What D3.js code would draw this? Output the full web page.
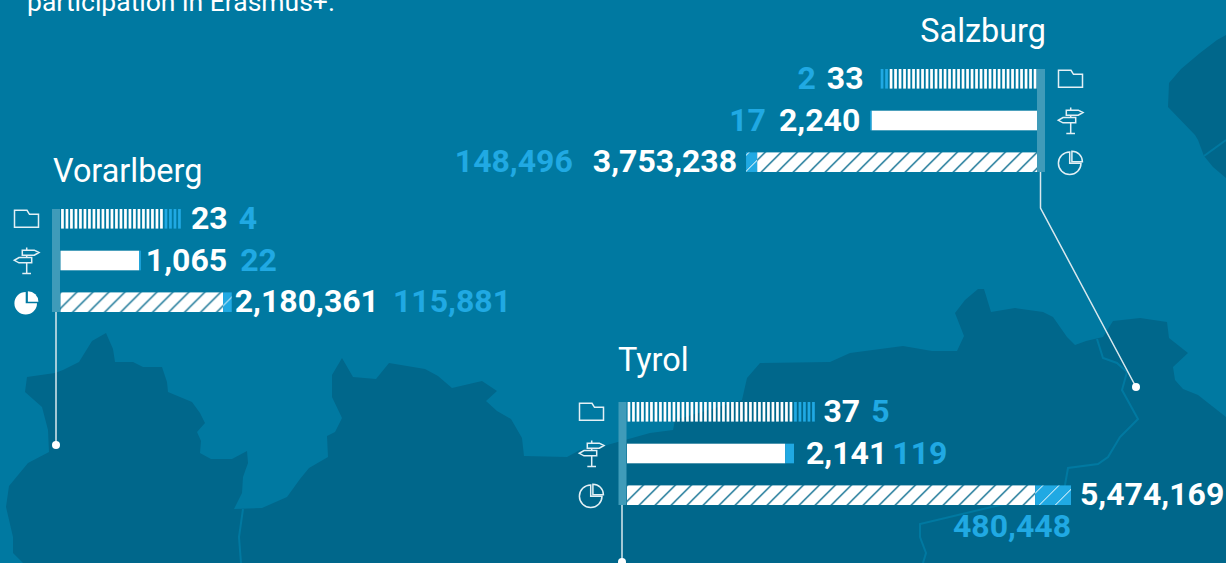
<!DOCTYPE html>
<html>
<head>
<meta charset="utf-8">
<script src="https://cdn.jsdelivr.net/npm/d3@7/dist/d3.min.js"></script>
<style>
  html, body { margin: 0; padding: 0; background: #0079a1; overflow: hidden; }
  text { font-family: Roboto, sans-serif; }
</style>
</head>
<body>
<svg id="chart" width="1226" height="563"></svg>
<script>
// values: [main, second] per region
const regions = ["Vorarlberg", "Salzburg", "Tyrol"];
const projects = [23, 33, 37];
const projectsOther = [4, 2, 5];
const organisations = [1065, 2240, 2141];
const organisationsOther = [22, 17, 119];
const funding = [2180361, 3753238, 5474169];
const fundingOther = [115881, 148496, 480448];
const introText = "participation in Erasmus+.";

const bg = "#0079a1", land = "#00678b", border = "#0079a1";
const blue = "#20a9e3", white = "#ffffff", axisCol = "#3f9bb9";

// background map outline, traced by hand
const landPath = "M23,563 L13,553 L13,537 L6,507 L9,486 L28,463 L49,452 L48,430 L42,407 L25,392 L27,377 L55,373 L63,370 L79,362 L92,341 L106,333 L113,349 L115,362 L133,362 L143,367 L162,367 L167,382 L168,392 L192,402 L200,413 L205,423 L197,432 L201,441 L200,453 L211,459 L232,459 L247,451 L248,463 L243,477 L242,493 L234,509 L262,508 L287,497 L300,479 L309,468 L328,457 L327,436 L335,432 L342,418 L332,397 L332,375 L342,358 L353,377 L376,379 L389,363 L425,369 L438,376 L452,388 L482,381 L497,391 L486,401 L497,411 L511,419 L522,438 L524,456 L567,457 L580,450 L600,447 L650,433 L673,430 L675,420 L742,400 L747,378 L760,363 L830,362 L850,353 L903,346 L932,351 L957,351 L964,336 L955,313 L965,300 L978,289 L984,289 L991,312 L1015,308 L1043,312 L1053,317 L1067,337 L1075,345 L1086,341 L1103,337 L1113,321 L1140,318 L1167,322 L1169,338 L1188,353 L1173,367 L1175,380 L1183,389 L1198,395 L1226,417 L1226,563 Z";
const landPath2 = "M1226,35 L1217,40 L1200,53 L1181,69 L1169,83 L1168,107 L1195,135 L1198,140 L1204,156 L1213,167 L1226,178 Z";
const borderPaths = [
    "M1097,339 L1103,358 L1117,363 L1127,372 L1122,390 L1138,419 L1120,437 L1108,457 L1098,464 L1068,468 L1065,485 L1062,497 L1000,505 L920,524 L920,537 L926,553 L923,563",
    "M243,509 L239,537 L241,563",
    "M1204,156 L1226,140"
];

const svg = d3.select("#chart");
svg.append("rect").attr("width", 1226).attr("height", 563).attr("fill", bg);
svg.append("path").attr("d", landPath).attr("fill", land);
svg.append("path").attr("d", landPath2).attr("fill", land);
svg.selectAll(".border").data(borderPaths).join("path")
    .attr("class", "border").attr("d", d => d)
    .attr("fill", "none").attr("stroke", border).attr("stroke-width", 2);

svg.append("text").attr("x", 27).attr("y", 11)
    .attr("fill", white).style("font-size", "26.5px").text(introText);

// hatch for the funding bars
const defs = svg.append("defs");
function hatch(id, fill, stroke, width) {
    const p = defs.append("pattern").attr("id", id)
        .attr("patternUnits", "userSpaceOnUse").attr("width", 16).attr("height", 16);
    p.append("rect").attr("width", 16).attr("height", 16).attr("fill", fill);
    p.append("path").attr("d", "M-2,2 L2,-2 M0,16 L16,0 M14,18 L18,14")
        .attr("stroke", stroke).attr("stroke-width", width);
}
hatch("hatchWhite", white, "#00678b", 1.3);
hatch("hatchBlue", blue, white, 1);

// scales shared by the three regions
const xProjects = d3.scaleLinear().domain([0, 42]).range([0, 189]);
const xOrgs = d3.scaleLinear().domain([0, 2260]).range([0, 167]);
const xFunding = d3.scaleLinear().domain([0, 5954617]).range([0, 444]);
const metrics = ["projects", "orgs", "funding"];
const yRow = d3.scaleBand().domain(metrics).range([0, 103]).paddingInner(0.53);
const fmt = d3.format(",");

// where each region sits and how it is read (dir -1 = bars run to the left)
const layout = [
    { x: 60.5, y: 209, dir: 1, titleX: 53, titleY: 181.5, anchor: "start", icon: -46.5, solidPie: true, gaps: [9, 5, 3], gaps2: [11, 13, 14] },
    { x: 1037, y: 69, dir: -1, titleX: 1046, titleY: 41.5, anchor: "end", icon: 21, solidPie: false, gaps: [16, 10, 9], gaps2: [11, 13, 20] },
    { x: 627, y: 402, dir: 1, titleX: 618, titleY: 370.5, anchor: "start", icon: -48, solidPie: false, gaps: [7.5, 12, 9], gaps2: [11, 5, 0] }
];

const leaders = [
    [[56, 312], [56, 445]],
    [[1040.5, 172], [1040.5, 208], [1136, 387]],
    [[622, 504], [622, 562]]
];
leaders.forEach(pts => {
    svg.append("path").attr("d", d3.line()(pts))
        .attr("fill", "none").attr("stroke", "#d8e8ee").attr("stroke-width", 1.5);
    const end = pts[pts.length - 1];
    svg.append("circle").attr("cx", end[0]).attr("cy", end[1]).attr("r", 4).attr("fill", white);
});

function drawIcon(g, kind, solid) {
    const s = g.append("g").attr("fill", "none").attr("stroke", "#e3f0f5").attr("stroke-width", 1.5);
    if (kind === "projects") {
        s.append("path").attr("d", "M0.5,-8.5 H13 L15.5,-4.5 H24.5 V8.5 H0.5 Z");
    } else if (kind === "orgs") {
        s.append("path").attr("d", "M8.3,-10.3 H20.3 L25,-8 L20.3,-5.3 H8.3 Z");
        s.append("path").attr("d", "M5,-3 H17.7 V2.3 H5 L0.3,-0.2 Z");
        s.append("path").attr("d", "M12.7,-13 V-10.3 M12.7,-5.3 V-3 M12.7,2.3 V13 M8.3,13 H17");
    } else {
        s.append("path").attr("d", "M11.7,-10.3 A11.3,11.3 0 1 0 23,1 H11.7 Z");
        s.append("path").attr("d", "M13.9,-11 A10.5,10.5 0 0 1 24.4,-0.5 H13.9 Z");
        if (solid) s.selectAll("path").attr("fill", white).attr("stroke", "none");
    }
}

regions.forEach((name, i) => {
    const l = layout[i];
    const g = svg.append("g").attr("transform", `translate(${l.x},${l.y})`);

    svg.append("text").attr("x", l.titleX).attr("y", l.titleY)
        .attr("text-anchor", l.anchor).attr("fill", white)
        .style("font-size", "32.4px").text(name);

    const rows = [
        { key: "projects", scale: xProjects, a: projects[i], b: projectsOther[i] },
        { key: "orgs", scale: xOrgs, a: organisations[i], b: organisationsOther[i] },
        { key: "funding", scale: xFunding, a: funding[i], b: fundingOther[i] }
    ];

    rows.forEach((r, j) => {
        const row = g.append("g").attr("transform", `translate(0,${yRow(r.key)})`);
        const h = yRow.bandwidth();
        const wA = r.scale(r.a), wB = r.scale(r.b);
        const px = (start, w) => l.dir > 0 ? start : -start - w;

        if (r.key === "projects") {
            // one thin stripe per project
            const one = r.scale(1);
            row.selectAll(".s").data(d3.range(r.a + r.b)).join("rect")
                .attr("x", d => px(r.scale(d) + 0.6, one - 1.8))
                .attr("width", one - 1.8).attr("height", h)
                .attr("fill", d => d < r.a ? white : blue);
        } else {
            const hatched = r.key === "funding";
            row.append("rect").attr("x", px(0, wA)).attr("width", wA).attr("height", h)
                .attr("fill", hatched ? "url(#hatchWhite)" : white);
            row.append("rect").attr("x", px(wA, wB)).attr("width", wB).attr("height", h)
                .attr("fill", hatched ? "url(#hatchBlue)" : blue);
        }

        // value labels
        const end = wA + wB;
        const base = h / 2 + 10;
        const main = row.append("text").attr("y", base).attr("fill", white)
            .style("font-size", "32px").style("font-weight", 700)
            .attr("text-anchor", l.dir > 0 ? "start" : "end")
            .attr("x", l.dir * (end + l.gaps[j]))
            .text(fmt(r.a));
        const other = row.append("text").attr("y", base).attr("fill", blue)
            .style("font-size", "32px").style("font-weight", 700)
            .attr("text-anchor", l.dir > 0 ? "start" : "end")
            .text(fmt(r.b));
        const mw = main.node().getComputedTextLength();
        if (name === "Tyrol" && r.key === "funding") {
            // no room to the right, goes under the bar
            other.attr("text-anchor", "end").attr("x", end).attr("y", base + 32);
        } else {
            other.attr("x", l.dir * (end + l.gaps[j] + mw + l.gaps2[j]));
        }

        const ic = row.append("g").attr("transform", `translate(${l.icon},${h / 2})`);
        drawIcon(ic, r.key, l.solidPie);
    });

    // vertical base of the bars
    g.append("rect").attr("x", l.dir > 0 ? -8.5 : 0).attr("y", 0)
        .attr("width", 8).attr("height", 103).attr("fill", axisCol);
});
</script>
</body>
</html>
